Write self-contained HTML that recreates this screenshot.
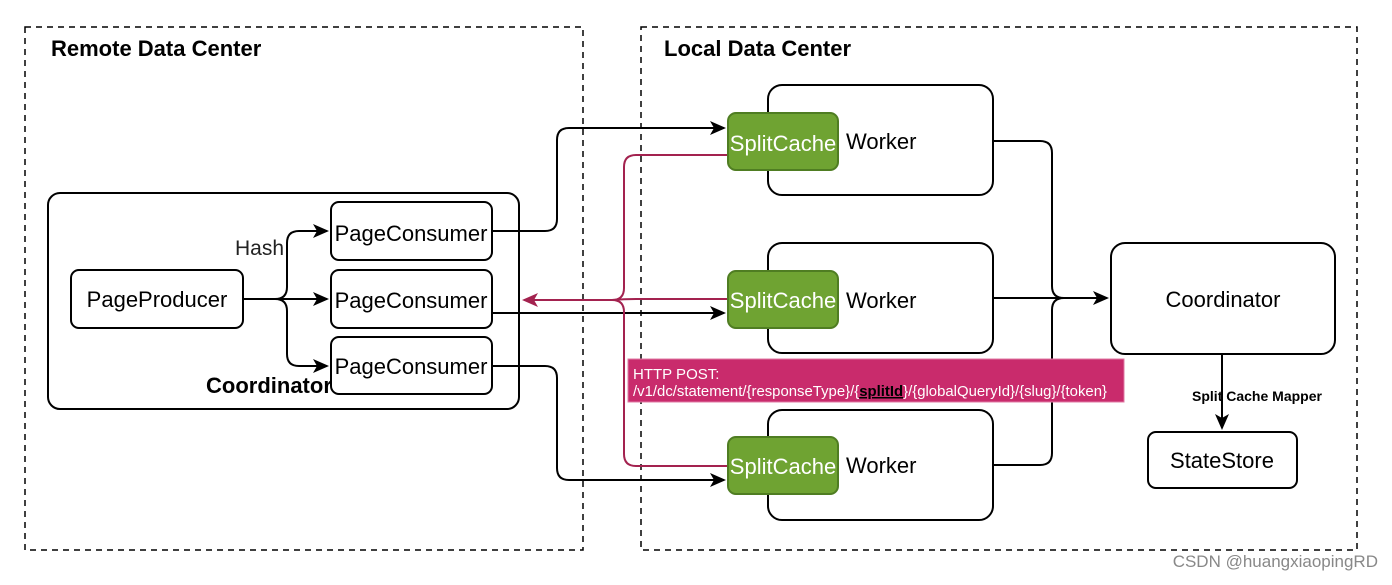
<!DOCTYPE html>
<html><head><style>
body{margin:0;background:#fff;}
svg text{font-family:"Liberation Sans",Arial,sans-serif;}
</style></head><body>
<svg width="1392" height="580" viewBox="0 0 1392 580" xmlns="http://www.w3.org/2000/svg">
<defs>
<marker id="ab" markerWidth="16" markerHeight="16" refX="14" refY="8" orient="auto" markerUnits="userSpaceOnUse"><path d="M0,1 L16,8 L0,15 L4,8 Z" fill="#000"/></marker>
<marker id="ar" markerWidth="16" markerHeight="16" refX="14" refY="8" orient="auto" markerUnits="userSpaceOnUse"><path d="M0,1 L16,8 L0,15 L4,8 Z" fill="#a3224f"/></marker>
</defs>
<rect x="0" y="0" width="1392" height="580" fill="#fff"/>
<rect x="25" y="27" width="558" height="523" fill="none" stroke="#000" stroke-width="1.5" stroke-dasharray="6,5"/>
<rect x="641" y="27" width="716" height="523" fill="none" stroke="#000" stroke-width="1.5" stroke-dasharray="6,5"/>
<text x="51" y="56" font-size="22" font-weight="bold">Remote Data Center</text>
<text x="664" y="56" font-size="22" font-weight="bold">Local Data Center</text>

<rect x="48" y="193" width="471" height="216" rx="12" fill="none" stroke="#000" stroke-width="2"/>
<text x="206" y="393" font-size="22" font-weight="bold">Coordinator</text>
<rect x="71" y="270" width="172" height="58" rx="8" fill="#fff" stroke="#000" stroke-width="2"/>
<text x="157" y="307" font-size="22" text-anchor="middle">PageProducer</text>
<text x="235" y="255" font-size="21" fill="#222">Hash</text>
<g fill="none" stroke="#000" stroke-width="2">
<path d="M243,299 H275 Q287,299 287,287 V243 Q287,231 299,231 H327" marker-end="url(#ab)"/>
<path d="M243,299 H327" marker-end="url(#ab)"/>
<path d="M275,299 Q287,299 287,311 V354 Q287,366 299,366 H327" marker-end="url(#ab)"/>
</g>
<rect x="331" y="202" width="161" height="58" rx="8" fill="#fff" stroke="#000" stroke-width="2"/>
<rect x="331" y="270" width="161" height="58" rx="8" fill="#fff" stroke="#000" stroke-width="2"/>
<rect x="331" y="337" width="161" height="57" rx="8" fill="#fff" stroke="#000" stroke-width="2"/>
<text x="411" y="241" font-size="22" text-anchor="middle">PageConsumer</text>
<text x="411" y="308" font-size="22" text-anchor="middle">PageConsumer</text>
<text x="411" y="374" font-size="22" text-anchor="middle">PageConsumer</text>

<g fill="none" stroke="#000" stroke-width="2">
<path d="M492,231 H545 Q557,231 557,219 V140 Q557,128 569,128 H724" marker-end="url(#ab)"/>
<path d="M492,313 H724" marker-end="url(#ab)"/>
<path d="M492,366 H545 Q557,366 557,378 V468 Q557,480 569,480 H724" marker-end="url(#ab)"/>
</g>

<g fill="none" stroke="#a3224f" stroke-width="2">
<path d="M728,155 H636 Q624,155 624,167 V288 Q624,300 612,300 H524" marker-end="url(#ar)"/>
<path d="M728,299 H636 Q624,299 612,300"/>
<path d="M728,466 H636 Q624,466 624,454 V312 Q624,300 612,300"/>
</g>

<g fill="#fff" stroke="#000" stroke-width="2">
<rect x="768" y="85" width="225" height="110" rx="14"/>
<rect x="768" y="243" width="225" height="110" rx="14"/>
<rect x="768" y="410" width="225" height="110" rx="14"/>
</g>
<g fill="#6fa332" stroke="#4f7d22" stroke-width="2">
<rect x="728" y="113" width="110" height="57" rx="8"/>
<rect x="728" y="271" width="110" height="57" rx="8"/>
<rect x="728" y="437" width="110" height="57" rx="8"/>
</g>
<g font-size="22" fill="#fff" text-anchor="middle">
<text x="783" y="151">SplitCache</text>
<text x="783" y="308">SplitCache</text>
<text x="783" y="474">SplitCache</text>
</g>
<g font-size="22">
<text x="846" y="149">Worker</text>
<text x="846" y="308">Worker</text>
<text x="846" y="473">Worker</text>
</g>

<g fill="none" stroke="#000" stroke-width="2">
<path d="M993,141 H1040 Q1052,141 1052,153 V286 Q1052,298 1064,298 H1107" marker-end="url(#ab)"/>
<path d="M993,298 H1107"/>
<path d="M993,465 H1040 Q1052,465 1052,453 V310 Q1052,298 1064,298"/>
<path d="M1222,354 V428" marker-end="url(#ab)"/>
</g>

<rect x="628" y="359" width="496" height="43" fill="#c92b6c" stroke="#e07aa3" stroke-width="1"/>
<text x="633" y="379" font-size="15" fill="#fff">HTTP POST:</text>
<text x="633" y="396" font-size="15" fill="#fff" textLength="474" lengthAdjust="spacingAndGlyphs">/v1/dc/statement/{responseType}/{<tspan fill="#000" font-weight="bold" text-decoration="underline">splitId</tspan>}/{globalQueryId}/{slug}/{token}</text>

<rect x="1111" y="243" width="224" height="111" rx="14" fill="#fff" stroke="#000" stroke-width="2"/>
<text x="1223" y="307" font-size="22" text-anchor="middle">Coordinator</text>
<text x="1257" y="401" font-size="14" font-weight="bold" text-anchor="middle">Split Cache Mapper</text>
<rect x="1148" y="432" width="149" height="56" rx="8" fill="#fff" stroke="#000" stroke-width="2"/>
<text x="1222" y="468" font-size="22" text-anchor="middle">StateStore</text>
<text x="1378" y="567" font-size="17" fill="#888" text-anchor="end">CSDN @huangxiaopingRD</text>
</svg>
</body></html>
